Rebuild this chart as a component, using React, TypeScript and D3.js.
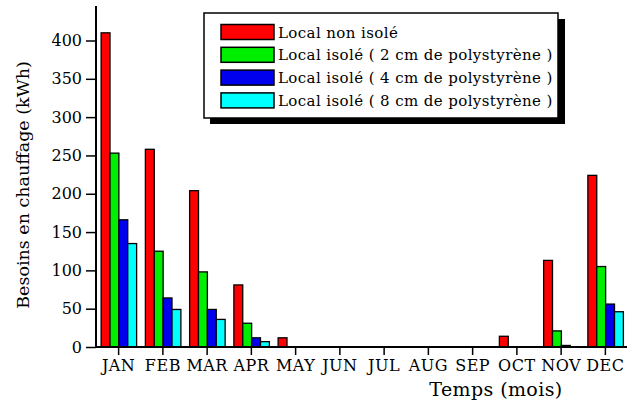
import React, { useEffect, useRef } from "react";
import * as d3 from "d3";

// données
const months = ["JAN", "FEB", "MAR", "APR", "MAY", "JUN", "JUL", "AUG", "SEP", "OCT", "NOV", "DEC"];
const nonIsole = [410, 258, 204, 81, 12, 0, 0, 0, 0, 14, 113, 224];
const isole2cm = [253, 125, 98, 31, 0, 0, 0, 0, 0, 0, 21, 105];
const isole4cm = [166, 64, 49, 12, 0, 0, 0, 0, 0, 0, 2, 56];
const isole8cm = [135, 49, 36, 7, 0, 0, 0, 0, 0, 0, 0, 46];
const seriesNames = [
  "Local non isolé",
  "Local isolé ( 2 cm de polystyrène )",
  "Local isolé ( 4 cm de polystyrène )",
  "Local isolé ( 8 cm de polystyrène )",
];
const seriesColors = ["#ff0000", "#00ee00", "#0000ee", "#00ffff"];
const yTicks = [0, 50, 100, 150, 200, 250, 300, 350, 400];

const W = 634;
const H = 402;
const FONT = "'DejaVu Serif', serif";

export default function App() {
  const ref = useRef<SVGSVGElement>(null);

  useEffect(() => {
    const svg = d3.select(ref.current);
    svg.selectAll("*").remove();

    const allSeries = [nonIsole, isole2cm, isole4cm, isole8cm];

    const x = d3.scaleLinear().domain([0.5, 12.5]).range([96, 627]);
    const y = d3.scaleLinear().domain([0, 400]).range([347, 40.5]);
    const xSub = d3.scaleBand<number>().domain([0, 1, 2, 3]).range([0, 35.5]);

    // barres
    allSeries.forEach((vals, s) => {
      svg.append("g")
        .selectAll("rect")
        .data(vals.map((v, i) => ({ v, i })).filter((d) => d.v > 0))
        .enter()
        .append("rect")
        .attr("x", (d) => x(d.i + 1) - 17 + xSub(s)!)
        .attr("y", (d) => y(d.v))
        .attr("width", xSub.bandwidth())
        .attr("height", (d) => y(0) - y(d.v))
        .attr("fill", seriesColors[s])
        .attr("stroke", "#000")
        .attr("stroke-width", 1.3);
    });

    // axe Y
    const yAxis = svg.append("g").attr("transform", `translate(${x(0.5)},0)`);
    yAxis.append("line")
      .attr("x1", 0).attr("x2", 0)
      .attr("y1", y(445)).attr("y2", y(0))
      .attr("stroke", "#000").attr("stroke-width", 2);
    yAxis.call(
      d3.axisLeft(y).tickValues(d3.range(25, 445, 50)).tickSize(5).tickFormat(() => "")
    );
    yAxis.call(
      d3.axisLeft(y).tickValues(yTicks).tickSize(10).tickPadding(4).tickFormat(d3.format("d"))
    );
    yAxis.select(".domain").remove();
    yAxis.selectAll(".tick line").attr("stroke-width", 1.5);
    yAxis.selectAll("text")
      .attr("font-family", FONT)
      .attr("font-size", 16)
      .attr("fill", "#000");

    // axe X
    const xAxis = svg.append("g").attr("transform", `translate(0,${y(0)})`);
    xAxis.append("line")
      .attr("x1", x(0.5)).attr("x2", x(12.5))
      .attr("y1", 0).attr("y2", 0)
      .attr("stroke", "#000").attr("stroke-width", 2);
    xAxis.call(
      d3.axisBottom(x).tickValues(d3.range(0.5, 13, 1)).tickSize(5).tickFormat(() => "")
    );
    xAxis.call(
      d3.axisBottom(x)
        .tickValues(d3.range(1, 13))
        .tickSize(8)
        .tickPadding(5)
        .tickFormat((d) => months[(d as number) - 1])
    );
    xAxis.select(".domain").remove();
    xAxis.selectAll(".tick line").attr("stroke-width", 1.5);
    xAxis.selectAll("text")
      .attr("font-family", FONT)
      .attr("font-size", 16)
      .attr("letter-spacing", 0.5)
      .attr("fill", "#000");

    // titres des axes
    svg.append("text")
      .attr("x", 496)
      .attr("y", 396)
      .attr("text-anchor", "middle")
      .attr("font-family", FONT)
      .attr("font-size", 19)
      .attr("letter-spacing", 0.4)
      .text("Temps (mois)");

    svg.append("text")
      .attr("transform", `translate(29,185) rotate(-90)`)
      .attr("text-anchor", "middle")
      .attr("font-family", FONT)
      .attr("font-size", 17.5)
      .text("Besoins en chauffage (kWh)");

    // légende
    const legend = svg.append("g");
    legend.append("rect")
      .attr("x", 210).attr("y", 19)
      .attr("width", 355).attr("height", 105)
      .attr("fill", "#000");
    legend.append("rect")
      .attr("x", 204).attr("y", 13)
      .attr("width", 354).attr("height", 105)
      .attr("fill", "#fff")
      .attr("stroke", "#000")
      .attr("stroke-width", 1.5);

    seriesNames.forEach((name, i) => {
      const cy = 32 + i * 22.8;
      legend.append("rect")
        .attr("x", 221).attr("y", cy - 7.5)
        .attr("width", 53).attr("height", 15)
        .attr("fill", seriesColors[i])
        .attr("stroke", "#000")
        .attr("stroke-width", 1.5);
      legend.append("text")
        .attr("x", 278).attr("y", cy + 5.5)
        .attr("font-family", FONT)
        .attr("font-size", 15)
        .attr("letter-spacing", 0.4)
        .text(name);
    });
  }, []);

  return (
    <svg
      ref={ref}
      width={W}
      height={H}
      style={{ position: "absolute", left: 0, top: 0, background: "#fff" }}
    />
  );
}
